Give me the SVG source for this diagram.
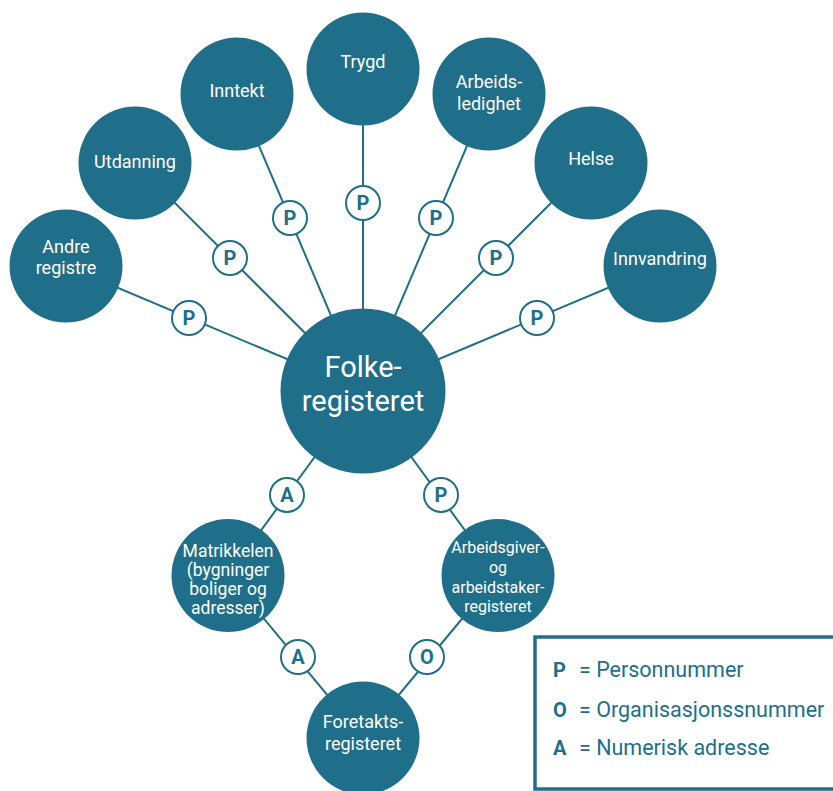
<svg xmlns="http://www.w3.org/2000/svg" width="833" height="791" viewBox="0 0 833 791">
  <style>
    .node { fill: #206f8a; }
    .lbl { fill: #ffffff; font-family: Roboto, "Liberation Sans", sans-serif; font-size: 18px; text-anchor: middle; }
    .big { font-size: 29px; }
    .small { font-size: 16px; }
    .mid { font-size: 17.5px; }
    .link { stroke: #206f8a; stroke-width: 2; fill: none; }
    .badge circle { fill: #ffffff; stroke: #206f8a; stroke-width: 2; }
    .badge text { fill: #206f8a; font-family: Roboto, "Liberation Sans", sans-serif; font-size: 20px; font-weight: bold; text-anchor: middle; }
    .legend rect { fill: #ffffff; stroke: #206f8a; stroke-width: 3.5; }
    .legend text { fill: #206f8a; font-family: Roboto, "Liberation Sans", sans-serif; font-size: 21.5px; }
    .legend .key { font-weight: bold; font-size: 20px; }
  </style>

  <!-- connectors between registers -->
  <g id="connectors" class="link">
    <line x1="363" y1="391" x2="66" y2="266"/>
    <line x1="363" y1="391" x2="135" y2="163"/>
    <line x1="363" y1="391" x2="237" y2="94"/>
    <line x1="363" y1="391" x2="363" y2="69"/>
    <line x1="363" y1="391" x2="489" y2="94"/>
    <line x1="363" y1="391" x2="591" y2="163"/>
    <line x1="363" y1="391" x2="660" y2="266"/>
    <line x1="363" y1="391" x2="228" y2="575.5"/>
    <line x1="363" y1="391" x2="498" y2="575.5"/>
    <line x1="228" y1="575.5" x2="363" y2="738"/>
    <line x1="498" y1="575.5" x2="363" y2="738"/>
  </g>

  <!-- key badges on the connectors -->
  <g id="keys">
    <g class="badge"><circle cx="189" cy="318" r="17"/><text x="189" y="325">P</text></g>
    <g class="badge"><circle cx="230" cy="258" r="17"/><text x="230" y="265">P</text></g>
    <g class="badge"><circle cx="290" cy="218" r="17"/><text x="290" y="225">P</text></g>
    <g class="badge"><circle cx="363" cy="203" r="17"/><text x="363" y="210">P</text></g>
    <g class="badge"><circle cx="436" cy="218" r="17"/><text x="436" y="225">P</text></g>
    <g class="badge"><circle cx="496" cy="258" r="17"/><text x="496" y="265">P</text></g>
    <g class="badge"><circle cx="537" cy="318" r="17"/><text x="537" y="325">P</text></g>
    <g class="badge"><circle cx="287" cy="495" r="17"/><text x="287" y="502">A</text></g>
    <g class="badge"><circle cx="441" cy="495" r="17"/><text x="441" y="502">P</text></g>
    <g class="badge"><circle cx="298" cy="657" r="17"/><text x="298" y="664">A</text></g>
    <g class="badge"><circle cx="427" cy="657" r="17"/><text x="427" y="664">O</text></g>
  </g>

  <!-- registers -->
  <g id="folkeregisteret">
    <circle class="node" cx="363" cy="391" r="82.5"/>
    <text class="lbl big" x="363" y="377">Folke-</text>
    <text class="lbl big" x="363" y="411">registeret</text>
  </g>
  <g id="andre-registre">
    <circle class="node" cx="66" cy="266" r="56.5"/>
    <text class="lbl" x="66" y="253">Andre</text>
    <text class="lbl" x="66" y="274">registre</text>
  </g>
  <g id="utdanning">
    <circle class="node" cx="135" cy="163" r="56.5"/>
    <text class="lbl" x="135" y="168">Utdanning</text>
  </g>
  <g id="inntekt">
    <circle class="node" cx="237" cy="94" r="56.5"/>
    <text class="lbl" x="237" y="97">Inntekt</text>
  </g>
  <g id="trygd">
    <circle class="node" cx="363" cy="69" r="56.5"/>
    <text class="lbl" x="363" y="68">Trygd</text>
  </g>
  <g id="arbeidsledighet">
    <circle class="node" cx="489" cy="94" r="56.5"/>
    <text class="lbl" x="489" y="88">Arbeids-</text>
    <text class="lbl" x="489" y="110">ledighet</text>
  </g>
  <g id="helse">
    <circle class="node" cx="591" cy="163" r="56.5"/>
    <text class="lbl" x="591" y="165">Helse</text>
  </g>
  <g id="innvandring">
    <circle class="node" cx="660" cy="266" r="56.5"/>
    <text class="lbl" x="660" y="265">Innvandring</text>
  </g>
  <g id="matrikkelen">
    <circle class="node" cx="228" cy="575.5" r="56.5"/>
    <text class="lbl mid" x="228" y="557">Matrikkelen</text>
    <text class="lbl mid" x="228" y="576">(bygninger</text>
    <text class="lbl mid" x="228" y="595">boliger og</text>
    <text class="lbl mid" x="228" y="614">adresser)</text>
  </g>
  <g id="aa-registeret">
    <circle class="node" cx="498" cy="575.5" r="56.5"/>
    <text class="lbl small" x="498" y="553">Arbeidsgiver-</text>
    <text class="lbl small" x="498" y="573">og</text>
    <text class="lbl small" x="498" y="593">arbeidstaker-</text>
    <text class="lbl small" x="498" y="612">registeret</text>
  </g>
  <g id="foretaksregisteret">
    <circle class="node" cx="363" cy="738" r="56.5"/>
    <text class="lbl" x="363" y="728">Foretakts-</text>
    <text class="lbl" x="363" y="750">registeret</text>
  </g>

  <!-- key legend -->
  <g id="legend" class="legend">
    <rect x="535" y="637" width="302" height="152"/>
    <text class="key" x="553" y="677">P</text>
    <text x="579" y="677">= Personnummer</text>
    <text class="key" x="553" y="717">O</text>
    <text x="579" y="717">= Organisasjonssnummer</text>
    <text class="key" x="553" y="755">A</text>
    <text x="579" y="755">= Numerisk adresse</text>
  </g>
</svg>
